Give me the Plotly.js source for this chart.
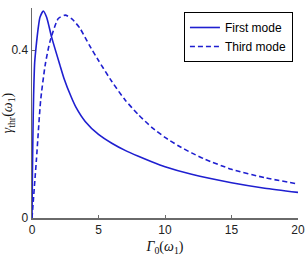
<!DOCTYPE html>
<html>
<head>
<meta charset="utf-8">
<script src="https://cdn.plot.ly/plotly-3.0.1.min.js"></script>
<style>html,body{margin:0;padding:0;background:#fff}#chart{width:307px;height:256px}</style>
</head>
<body>
<div id="chart"></div>
<script>
// First mode (solid)
const firstX = [0, 0.03, 0.07, 0.12, 0.2, 0.3, 0.4, 0.5, 0.6, 0.85, 1.1, 1.48, 2.1, 2.4, 2.95, 3.3, 4, 5, 6, 7, 8, 9, 10, 12, 15, 17.5, 20];
const firstY = [0, 0.10, 0.20, 0.29, 0.37, 0.405, 0.435, 0.46, 0.478, 0.493, 0.478, 0.43, 0.364, 0.333, 0.288, 0.264, 0.230, 0.199, 0.178, 0.161, 0.147, 0.134, 0.122, 0.104, 0.084, 0.071, 0.061];
// Third mode (dashed)
const thirdX = [0, 0.33, 0.65, 1.0, 1.35, 1.98, 2.5, 3.0, 3.6, 4.3, 5, 6, 7, 8, 9, 10, 11, 12, 13, 15, 17.5, 20];
const thirdY = [0, 0.138, 0.28, 0.366, 0.42, 0.475, 0.483, 0.474, 0.452, 0.412, 0.375, 0.325, 0.281, 0.246, 0.216, 0.192, 0.172, 0.155, 0.140, 0.116, 0.096, 0.081];
const xTicks = [0, 5, 10, 15, 20];
const yTicks = [0, 0.4];
const yTickText = ['0', '0.4'];
const seriesNames = ['First mode', 'Third mode'];

const blue = '#1f1fd0';
const data = [
  {x: firstX, y: firstY, type: 'scatter', mode: 'lines', name: seriesNames[0],
   line: {color: blue, width: 1.6, shape: 'spline', smoothing: 0.6}},
  {x: thirdX, y: thirdY, type: 'scatter', mode: 'lines', name: seriesNames[1],
   line: {color: blue, width: 1.6, dash: '5px,3px', shape: 'spline', smoothing: 0.6}}
];
const layout = {
  width: 307, height: 256,
  margin: {l: 32, r: 9, t: 8, b: 38},
  paper_bgcolor: '#fff', plot_bgcolor: '#fff',
  showlegend: true,
  legend: {x: 0.981, y: 0.981, xanchor: 'right', yanchor: 'top',
    bgcolor: '#fff', bordercolor: '#000', borderwidth: 1,
    font: {family: 'Liberation Sans, Arial, sans-serif', size: 12, color: '#000'},
    tracegroupgap: 0, itemwidth: 30},
  xaxis: {range: [0, 20], tickvals: xTicks, ticktext: xTicks.map(String),
    showgrid: false, zeroline: false, showline: true, linecolor: '#6a6a6a', linewidth: 1.5,
    ticks: 'inside', ticklen: 3, tickcolor: '#6a6a6a',
    tickfont: {family: 'Liberation Sans, Arial, sans-serif', size: 12, color: '#222'},
    title: {text: '<i>Γ</i><sub>0</sub>(<i>ω</i><sub>1</sub>)', standoff: 6,
      font: {family: 'Liberation Serif, Times New Roman, serif', size: 14, color: '#111'}}},
  yaxis: {range: [0, 0.5], tickvals: yTicks, ticktext: yTickText,
    showgrid: false, zeroline: false, showline: true, linecolor: '#6a6a6a', linewidth: 1.5,
    ticks: 'inside', ticklen: 3, tickcolor: '#6a6a6a',
    tickfont: {family: 'Liberation Sans, Arial, sans-serif', size: 12, color: '#222'},
    title: {text: '<i>γ</i><sub>thr</sub>(<i>ω</i><sub>1</sub>)', standoff: 0,
      font: {family: 'Liberation Serif, Times New Roman, serif', size: 14, color: '#111'}}}
};
Plotly.newPlot('chart', data, layout, {displayModeBar: false, staticPlot: true});
</script>
</body>
</html>
